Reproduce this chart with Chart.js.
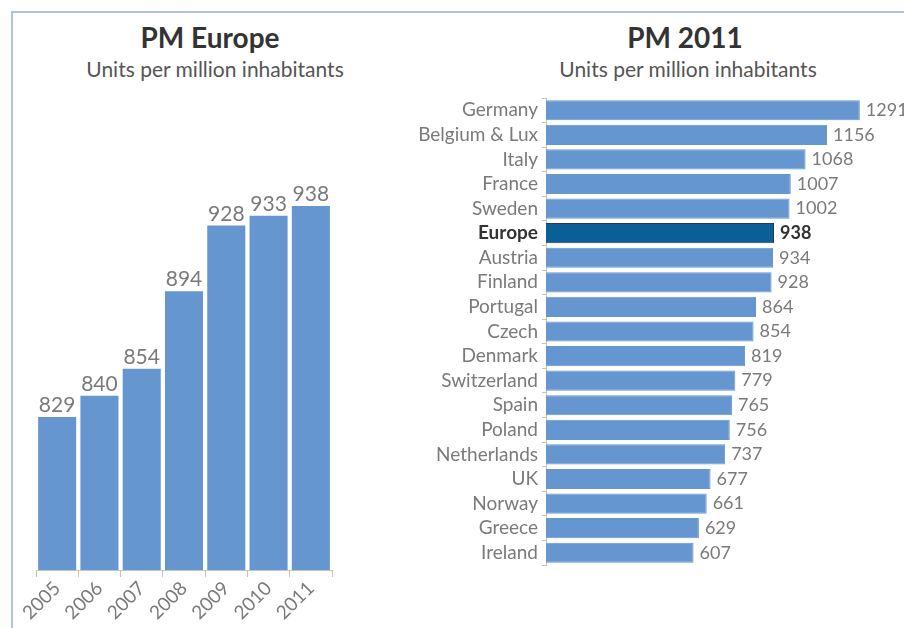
<!DOCTYPE html>
<html>
<head>
<meta charset="utf-8">
<script src="https://cdn.jsdelivr.net/npm/chart.js@4.4.1/dist/chart.umd.min.js"></script>
<style>
  body { margin: 0; width: 904px; height: 628px; background: #fff; overflow: hidden; font-family: Lato, "Open Sans", sans-serif; }
  .frame { position: absolute; left: 11px; top: 11px; right: -4px; bottom: -4px; border-top: 2px solid #a9c6ea; border-left: 2px solid #a9c6ea; }
  .title { position: absolute; text-align: center; font-weight: bold; font-size: 28px; color: #333; }
  .sub { position: absolute; text-align: center; font-size: 21px; color: #555; }
  .box { position: absolute; }
</style>
</head>
<body>
<div class="frame"></div>
<div class="title" style="left:60px; width:300px; top:20px;">PM Europe</div>
<div class="sub" style="left:65px; width:300px; top:56px;">Units per million inhabitants</div>
<div class="title" style="left:535px; width:300px; top:20px;">PM 2011</div>
<div class="sub" style="left:538px; width:300px; top:56px;">Units per million inhabitants</div>
<div class="box" style="left:14px; top:80px; width:336px; height:548px;"><canvas id="left"></canvas></div>
<div class="box" style="left:400px; top:90px; width:504px; height:480px;"><canvas id="right"></canvas></div>
<script>
// PM Europe, by year
const years = ["2005", "2006", "2007", "2008", "2009", "2010", "2011"];
const europeValues = [829, 840, 854, 894, 928, 933, 938];

// PM 2011, by country
const countries = ["Germany", "Belgium & Lux", "Italy", "France", "Sweden", "Europe", "Austria",
  "Finland", "Portugal", "Czech", "Denmark", "Switzerland", "Spain", "Poland", "Netherlands",
  "UK", "Norway", "Greece", "Ireland"];
const countryValues = [1291, 1156, 1068, 1007, 1002, 938, 934, 928, 864, 854, 819, 779, 765,
  756, 737, 677, 661, 629, 607];

const barBlue = "#6596cf";
const darkBlue = "#0a5f96";
const font = "Lato, 'Open Sans', sans-serif";
const europeIdx = countries.indexOf("Europe");

Chart.defaults.font.family = font;
Chart.defaults.animation = false;

// draws the value next to each bar
const valueLabels = {
  id: "valueLabels",
  afterDatasetsDraw(chart, args, opts) {
    const ctx = chart.ctx;
    const meta = chart.getDatasetMeta(0);
    const data = chart.data.datasets[0].data;
    ctx.save();
    meta.data.forEach((bar, i) => {
      const bold = opts.boldIndex === i;
      ctx.font = (bold ? "bold " : "") + opts.size + "px " + font;
      ctx.fillStyle = bold ? "#333" : "#7a7a7a";
      if (opts.horizontal) {
        ctx.textAlign = "left";
        ctx.textBaseline = "middle";
        ctx.fillText(data[i], bar.x + 6, bar.y);
      } else {
        ctx.textAlign = "center";
        ctx.textBaseline = "bottom";
        ctx.fillText(data[i], bar.x, bar.y - 1);
      }
    });
    ctx.restore();
  }
};

new Chart(document.getElementById("left"), {
  type: "bar",
  data: {
    labels: years,
    datasets: [{ data: europeValues, backgroundColor: barBlue, barPercentage: 0.9, categoryPercentage: 1 }]
  },
  options: {
    responsive: true,
    maintainAspectRatio: false,
    layout: { padding: { left: 22, right: 18, top: 6, bottom: 0 } },
    plugins: {
      legend: { display: false },
      tooltip: { enabled: false },
      valueLabels: { size: 21, horizontal: false }
    },
    scales: {
      y: { display: false, min: 750, max: 1000 },
      x: {
        border: { color: "#c4c4c4" },
        grid: { drawOnChartArea: false, tickLength: 7, color: "#c4c4c4" },
        ticks: { color: "#7a7a7a", font: { size: 19 }, minRotation: 45, maxRotation: 45, autoSkip: false, padding: 0 },
        afterFit: (s) => { s.height = 58; s.paddingLeft = 0; s.paddingRight = 0; }
      }
    }
  },
  plugins: [valueLabels]
});

new Chart(document.getElementById("right"), {
  type: "bar",
  data: {
    labels: countries,
    datasets: [{
      data: countryValues,
      backgroundColor: countries.map((c, i) => i === europeIdx ? darkBlue : barBlue),
      borderColor: countries.map((c, i) => i === europeIdx ? "#2a3a48" : barBlue),
      borderWidth: 1,
      barPercentage: 0.82,
      categoryPercentage: 1
    }]
  },
  options: {
    indexAxis: "y",
    responsive: true,
    maintainAspectRatio: false,
    layout: { padding: { left: 0, right: 42, top: 8, bottom: 5 } },
    plugins: {
      legend: { display: false },
      tooltip: { enabled: false },
      valueLabels: { size: 18, horizontal: true, boldIndex: europeIdx }
    },
    scales: {
      x: { display: false, min: 0, max: 1300 },
      y: {
        border: { color: "#c4c4c4" },
        grid: { drawOnChartArea: false, tickLength: 4, color: "#c4c4c4" },
        ticks: {
          color: (c) => c.index === europeIdx ? "#333" : "#7a7a7a",
          font: (c) => ({ size: 19, weight: c.index === europeIdx ? "bold" : "normal" }),
          padding: 4,
          autoSkip: false
        },
        afterFit: (s) => { s.width = 146; s.paddingTop = 0; s.paddingBottom = 0; }
      }
    }
  },
  plugins: [valueLabels]
});
</script>
</body>
</html>
